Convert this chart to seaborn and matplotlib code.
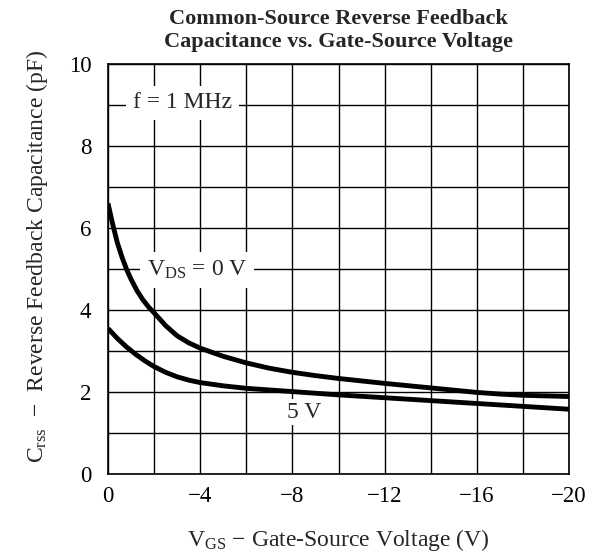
import matplotlib
matplotlib.use("Agg")
import matplotlib.pyplot as plt
import seaborn as sns
import pandas as pd
from matplotlib.ticker import MultipleLocator

# Data
vgs_0 = [0, -0.2, -0.4, -0.6, -0.8, -1.0, -1.25, -1.5, -1.75, -2, -2.5, -3, -3.5, -4, -5,
         -6, -7, -8, -9, -10, -12, -14, -16, -17, -18, -20]
crss_0 = [6.6, 6.1, 5.65, 5.3, 5.0, 4.75, 4.48, 4.26, 4.08, 3.93, 3.62, 3.37, 3.20, 3.07, 2.87,
          2.71, 2.58, 2.48, 2.40, 2.33, 2.21, 2.10, 1.99, 1.95, 1.92, 1.89]
vgs_5 = [0, -0.4, -0.8, -1.2, -1.6, -2, -2.5, -3, -3.5, -4, -5, -6, -7, -8, -10, -12, -14,
         -16, -18, -20]
crss_5 = [3.55, 3.31, 3.10, 2.92, 2.76, 2.62, 2.48, 2.37, 2.29, 2.23, 2.15, 2.09, 2.05, 2.01,
          1.93, 1.86, 1.79, 1.72, 1.65, 1.58]

df = pd.concat([
    pd.DataFrame({"Vgs": vgs_0, "Crss": crss_0, "Vds": "0 V"}),
    pd.DataFrame({"Vgs": vgs_5, "Crss": crss_5, "Vds": "5 V"}),
])

sns.set_style("white")
plt.rcParams["font.family"] = ["Liberation Serif", "DejaVu Serif"]
plt.rcParams["mathtext.fontset"] = "custom"
plt.rcParams["mathtext.rm"] = "Liberation Serif"
plt.rcParams["mathtext.it"] = "Liberation Serif:italic"

fig = plt.figure(figsize=(6.03, 5.55), dpi=100)
ax = fig.add_axes([108/603, 1-474/555, (569-108)/603, (474-64)/555])

sns.lineplot(data=df, x="Vgs", y="Crss", units="Vds", estimator=None,
             color="black", linewidth=3.5, ax=ax, legend=False, zorder=3,
             solid_joinstyle="round", solid_capstyle="butt")

ax.set_xlim(0, -20)
ax.set_ylim(0, 10)
ax.xaxis.set_major_locator(MultipleLocator(4))
ax.xaxis.set_minor_locator(MultipleLocator(2))
ax.yaxis.set_major_locator(MultipleLocator(2))
ax.yaxis.set_minor_locator(MultipleLocator(1))
ax.grid(True, which="both", color="black", linewidth=1.0)
ax.tick_params(which="both", length=0, labelsize=16.5, colors="black")
ax.tick_params(axis="x", pad=9)
ax.tick_params(axis="y", pad=12)
for s in ax.spines.values():
    s.set_color("black")
    s.set_linewidth(1.2)

ax.set_xlabel(r"$\mathrm{V_{GS}}$ − Gate-Source Voltage (V)", fontsize=17, labelpad=14)
ax.set_ylabel(r"$\mathrm{C_{rss}}$  −  Reverse Feedback Capacitance (pF)", fontsize=17)
ax.yaxis.set_label_coords(-0.126, 0.53)
ax.set_title("Common-Source Reverse Feedback\nCapacitance vs. Gate-Source Voltage",
             fontsize=16, fontweight="bold", linespacing=1.25, pad=12)

ax.text(-3.23, 9.05, "f = 1 MHz", fontsize=17, ha="center", va="center",
        bbox=dict(facecolor="white", edgecolor="none", pad=5), zorder=4)
ax.text(-3.86, 4.98, r"$\mathrm{V_{DS}}$ = 0 V", fontsize=17, ha="center", va="center",
        bbox=dict(facecolor="white", edgecolor="none", pad=5), zorder=4)
ax.text(-8.5, 1.51, "5 V", fontsize=17, ha="center", va="center",
        bbox=dict(facecolor="white", edgecolor="none", pad=1.5), zorder=4)

fig.savefig("out.png", dpi=100)
